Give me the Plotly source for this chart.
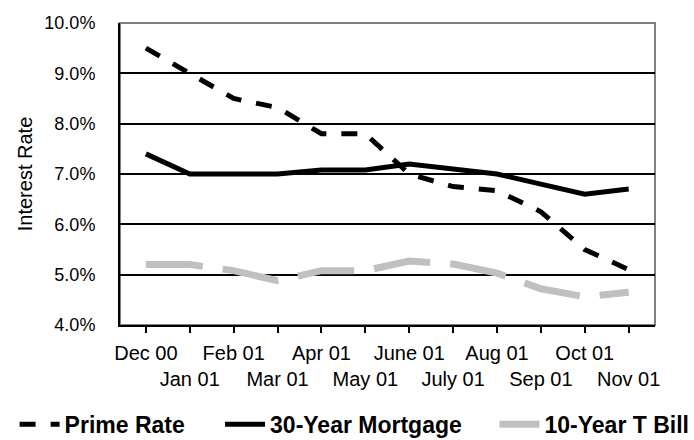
import plotly.graph_objects as go

# Monthly rates, Dec 2000 - Nov 2001 (percent)
months = ["Dec 00", "Jan 01", "Feb 01", "Mar 01", "Apr 01", "May 01",
          "June 01", "July 01", "Aug 01", "Sep 01", "Oct 01", "Nov 01"]
prime_rate = [9.5, 9.0, 8.5, 8.32, 7.8, 7.8, 7.0, 6.75, 6.67, 6.25, 5.5, 5.1]
mortgage_30yr = [7.4, 7.0, 7.0, 7.0, 7.08, 7.08, 7.2, 7.1, 7.0, 6.8, 6.6, 6.7]
tbill_10yr = [5.2, 5.2, 5.08, 4.88, 5.08, 5.08, 5.27, 5.21, 5.03, 4.72, 4.56, 4.65]
y_ticks = [4, 5, 6, 7, 8, 9, 10]

FONT = "Arial, Liberation Sans, sans-serif"
x_idx = list(range(len(months)))
# alternate month labels drop to a second row
tick_text = [m if i % 2 == 0 else "<br>" + m for i, m in enumerate(months)]

fig = go.Figure()
fig.add_trace(go.Scatter(
    x=x_idx, y=prime_rate, name="Prime Rate", mode="lines",
    line=dict(color="black", width=5, dash="16px,15px"),
    legend="legend"))
fig.add_trace(go.Scatter(
    x=x_idx, y=mortgage_30yr, name="30-Year Mortgage", mode="lines",
    line=dict(color="black", width=5),
    legend="legend2"))
fig.add_trace(go.Scatter(
    x=x_idx, y=tbill_10yr, name="10-Year T Bill", mode="lines",
    line=dict(color="#c0c0c0", width=7, dash="57px,20px"),
    legend="legend3"))

# grey frame around the plotting area
fig.add_shape(type="rect", xref="paper", yref="paper", x0=0, x1=1, y0=0, y1=1,
              line=dict(color="#808080", width=2), layer="below")

legend_common = dict(orientation="h", yanchor="middle", y=-0.329, xanchor="left",
                     font=dict(family=FONT, size=23, color="black", weight="bold"),
                     bgcolor="rgba(0,0,0,0)", borderwidth=0, itemwidth=40)

fig.update_layout(
    width=694, height=440,
    margin=dict(l=120, r=39, t=23, b=115, autoexpand=False),
    paper_bgcolor="white", plot_bgcolor="white",
    font=dict(family=FONT, color="black"),
    showlegend=True,
    legend=dict(x=-0.197, **legend_common),
    legend2=dict(x=0.187, **legend_common),
    legend3=dict(x=0.70, **legend_common),
    xaxis=dict(
        range=[-0.59, 11.6], tickmode="array", tickvals=x_idx, ticktext=tick_text,
        showgrid=False, zeroline=False, automargin=False,
        showline=True, linecolor="black", linewidth=2,
        ticks="outside", ticklen=6, tickwidth=2, tickcolor="black",
        tickangle=0,
        tickfont=dict(family=FONT, size=20, color="black"),
        ticklabelstandoff=3,
    ),
    yaxis=dict(
        range=[4, 10], tickmode="array", tickvals=y_ticks,
        ticktext=[f"{v:.1f}%" for v in y_ticks],
        showgrid=True, gridcolor="black", gridwidth=2, zeroline=False,
        automargin=False,
        showline=True, linecolor="black", linewidth=2,
        ticks="", tickfont=dict(family=FONT, size=18, color="black"),
        ticklabelstandoff=19,
        title=dict(text="Interest Rate", font=dict(family=FONT, size=20, color="black"),
                   standoff=6),
    ),
)

fig.write_html("out.html")
